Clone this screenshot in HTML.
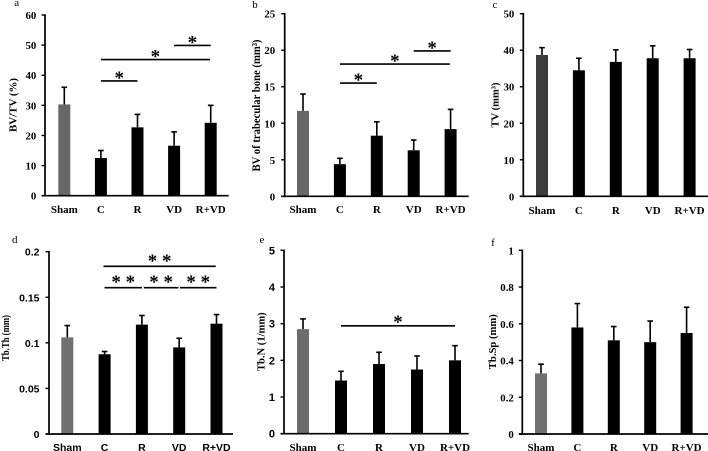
<!DOCTYPE html>
<html>
<head>
<meta charset="utf-8">
<title>Bone morphometry charts</title>
<style>
html,body{margin:0;padding:0;background:#fff;width:708px;height:451px;overflow:hidden}
svg{display:block;filter:blur(0.35px)}
text{font-weight:bold;fill:#000}
</style>
</head>
<body>
<svg id="figure" width="708" height="451" viewBox="0 0 708 451" xmlns="http://www.w3.org/2000/svg"></svg>
<script>
const categories = ['Sham', 'C', 'R', 'VD', 'R+VD'];

const aTicks = ['0', '10', '20', '30', '40', '50', '60'];
const aValues = [30.3, 12.5, 22.7, 16.6, 24.2];
const aErrorTops = [36, 15, 27, 21.2, 30];
const aSigFrom = [1, 1, 3];
const aSigTo = [2, 3.98, 4];
const aSigLevel = [38.1, 45.2, 49.9];
const aSigMarks = ['*', '*', '*'];

const bTicks = ['0', '5', '10', '15', '20', '25'];
const bValues = [11.7, 4.4, 8.3, 6.3, 9.2];
const bErrorTops = [14, 5.2, 10.2, 7.7, 11.9];
const bSigFrom = [1, 1, 3];
const bSigTo = [2, 3.98, 4];
const bSigLevel = [15.5, 18.1, 19.9];
const bSigMarks = ['*', '*', '*'];

const cTicks = ['0', '10', '20', '30', '40', '50'];
const cValues = [38.7, 34.5, 36.8, 37.8, 37.8];
const cErrorTops = [40.7, 37.8, 40.1, 41.2, 40.2];

const dTicks = ['0', '0.05', '0.1', '0.15', '0.2'];
const dValues = [0.106, 0.0875, 0.12, 0.095, 0.121];
const dErrorTops = [0.119, 0.0905, 0.13, 0.105, 0.131];
const dSigFrom = [0.97, 1, 2.05, 3.02];
const dSigTo = [3.98, 2, 2.98, 4];
const dSigLevel = [0.184, 0.1605, 0.1605, 0.1605];
const dSigMarks = ['* *', '* *', '* *', '* *'];

const eTicks = ['0', '1', '2', '3', '4', '5'];
const eValues = [2.85, 1.45, 1.9, 1.75, 2.0];
const eErrorTops = [3.13, 1.7, 2.22, 2.12, 2.4];
const eSigFrom = [1];
const eSigTo = [4];
const eSigLevel = [2.94];
const eSigMarks = ['*'];

const fTicks = ['0', '0.2', '0.4', '0.6', '0.8', '1'];
const fValues = [0.33, 0.58, 0.51, 0.5, 0.55];
const fErrorTops = [0.38, 0.71, 0.585, 0.615, 0.69];

const SERIF = '"Liberation Serif", serif';
const SANS = '"Liberation Sans", sans-serif';
const NS = 'http://www.w3.org/2000/svg';
const root = document.getElementById('figure');

function make(parent, tag, props, text) {
  const el = document.createElementNS(NS, tag);
  for (const k in props) el.setAttribute(k, props[k]);
  if (text !== undefined) el.textContent = text;
  parent.appendChild(el);
  return el;
}

function drawPanel(p, ticks, values, errorTops, sigFrom, sigTo, sigLevel, sigMarks) {
  const g = make(root, 'g', {});
  
  

  const numericTicks = ticks.map(Number);
  const yMax = numericTicks[numericTicks.length - 1];
  const y = v => p.bottom - (v / yMax) * (p.bottom - p.top);
  const x = i => p.firstBar + i * p.step;

  const panelLabel = make(g, 'text', {x: p.labelX, y: p.labelY, 'font-family': SERIF, 'font-size': 11, style: 'font-weight:normal', 'text-anchor': 'middle'}, p.id);
  
  

  const title = make(g, 'text', {transform: 'translate(' + p.titleX + ',' + p.titleY + ') rotate(-90)', 'font-family': SERIF, 'font-size': p.titleSize, 'text-anchor': 'middle', textLength: p.titleLength, lengthAdjust: 'spacingAndGlyphs'}, p.title);
  
  

  values.forEach((v, i) => {
    const bar = make(g, 'rect', {x: x(i) - 6, y: y(v), width: 12, height: p.bottom - y(v), fill: i === 0 ? p.shamColor : '#000'});
    
    

    const stem = make(g, 'line', {x1: x(i), x2: x(i), y1: y(v), y2: y(errorTops[i]), stroke: '#000', 'stroke-width': 1.6});
    
    

    const cap = make(g, 'line', {x1: x(i) - 2.8, x2: x(i) + 2.8, y1: y(errorTops[i]), y2: y(errorTops[i]), stroke: '#000', 'stroke-width': 1.6});
    
    

    const label = make(g, 'text', {x: x(i), y: p.catY, 'font-family': p.catFont, 'font-size': p.catSize, 'text-anchor': 'middle'}, categories[i]);
    
    
  });

  const yAxis = make(g, 'line', {x1: p.axisX, x2: p.axisX, y1: p.top - 0.8, y2: p.bottom + 0.8, stroke: '#000', 'stroke-width': 1.7});
  
  

  const xAxis = make(g, 'line', {x1: p.axisX - 3.5, x2: p.axisEnd, y1: p.bottom, y2: p.bottom, stroke: '#000', 'stroke-width': 1.7});
  
  

  numericTicks.forEach((t, i) => {
    const tick = make(g, 'line', {x1: p.axisX - 3.5, x2: p.axisX, y1: y(t), y2: y(t), stroke: '#000', 'stroke-width': 1.4});
    
    

    const tickLabel = make(g, 'text', {x: p.axisX - p.tickGap, y: y(t) + 4, 'font-family': p.tickFont, 'font-size': p.tickSize, 'text-anchor': 'end'}, ticks[i]);
    
    
  });

  (sigLevel || []).forEach((lvl, i) => {
    const line = make(g, 'line', {x1: x(sigFrom[i]), x2: x(sigTo[i]), y1: y(lvl), y2: y(lvl), stroke: '#000', 'stroke-width': 1.6});
    
    

    const mark = make(g, 'text', {x: (x(sigFrom[i]) + x(sigTo[i])) / 2, y: y(lvl) + p.starDy, 'font-family': SERIF, 'font-size': 19, 'text-anchor': 'middle', 'xml:space': 'preserve'}, sigMarks[i]);
    
    
  });
}

drawPanel({id: 'a', axisX: 45, axisEnd: 228.7, top: 15, bottom: 195.7, firstBar: 64.3, step: 36.6, shamColor: '#676767',
  labelX: 16.7, labelY: 6, title: 'BV/TV (%)', titleX: 16.5, titleY: 105, titleSize: 11, titleLength: 54,
  catY: 213, catFont: SERIF, catSize: 11, tickFont: SERIF, tickSize: 10.8, tickGap: 8.7, starDy: 3},
  aTicks, aValues, aErrorTops, aSigFrom, aSigTo, aSigLevel, aSigMarks);

drawPanel({id: 'b', axisX: 284.7, axisEnd: 468.7, top: 13.7, bottom: 196.3, firstBar: 303, step: 36.9, shamColor: '#676767',
  labelX: 255, labelY: 8, title: 'BV of trabecular bone (mm³)', titleX: 260, titleY: 105.5, titleSize: 11.5, titleLength: 132,
  catY: 213, catFont: SERIF, catSize: 11, tickFont: SERIF, tickSize: 10.8, tickGap: 9.5, starDy: 3},
  bTicks, bValues, bErrorTops, bSigFrom, bSigTo, bSigLevel, bSigMarks);

drawPanel({id: 'c', axisX: 523.3, axisEnd: 708, top: 13.7, bottom: 196.3, firstBar: 542, step: 36.9, shamColor: '#3c3c3c',
  labelX: 495, labelY: 8, title: 'TV (mm³)', titleX: 498.5, titleY: 105, titleSize: 11, titleLength: 45,
  catY: 214, catFont: SERIF, catSize: 11, tickFont: SERIF, tickSize: 10.8, tickGap: 9, starDy: 3},
  cTicks, cValues, cErrorTops);

drawPanel({id: 'd', axisX: 49, axisEnd: 233, top: 251.7, bottom: 434, firstBar: 67.3, step: 37.3, shamColor: '#707070',
  labelX: 14.7, labelY: 243, title: 'Tb.Th (mm)', titleX: 9, titleY: 338, titleSize: 10.5, titleLength: 46,
  catY: 451, catFont: SANS, catSize: 10.5, tickFont: SANS, tickSize: 10.5, tickGap: 9.5, starDy: 0.5},
  dTicks, dValues, dErrorTops, dSigFrom, dSigTo, dSigLevel, dSigMarks);

drawPanel({id: 'e', axisX: 284, axisEnd: 468.7, top: 250.3, bottom: 433.7, firstBar: 303, step: 38, shamColor: '#6c6c6c',
  labelX: 262, labelY: 243, title: 'Tb.N (1/mm)', titleX: 264.5, titleY: 341.7, titleSize: 11, titleLength: 58.7,
  catY: 451, catFont: SERIF, catSize: 11, tickFont: SANS, tickSize: 11, tickGap: 9, starDy: 2},
  eTicks, eValues, eErrorTops, eSigFrom, eSigTo, eSigLevel, eSigMarks);

drawPanel({id: 'f', axisX: 522.3, axisEnd: 708, top: 250.3, bottom: 434, firstBar: 541, step: 36.4, shamColor: '#707070',
  labelX: 493, labelY: 246, title: 'Tb.Sp (mm)', titleX: 496, titleY: 341.7, titleSize: 11, titleLength: 55,
  catY: 451, catFont: SERIF, catSize: 11, tickFont: SERIF, tickSize: 10.8, tickGap: 8.5, starDy: 3},
  fTicks, fValues, fErrorTops);
</script>
</body>
</html>
